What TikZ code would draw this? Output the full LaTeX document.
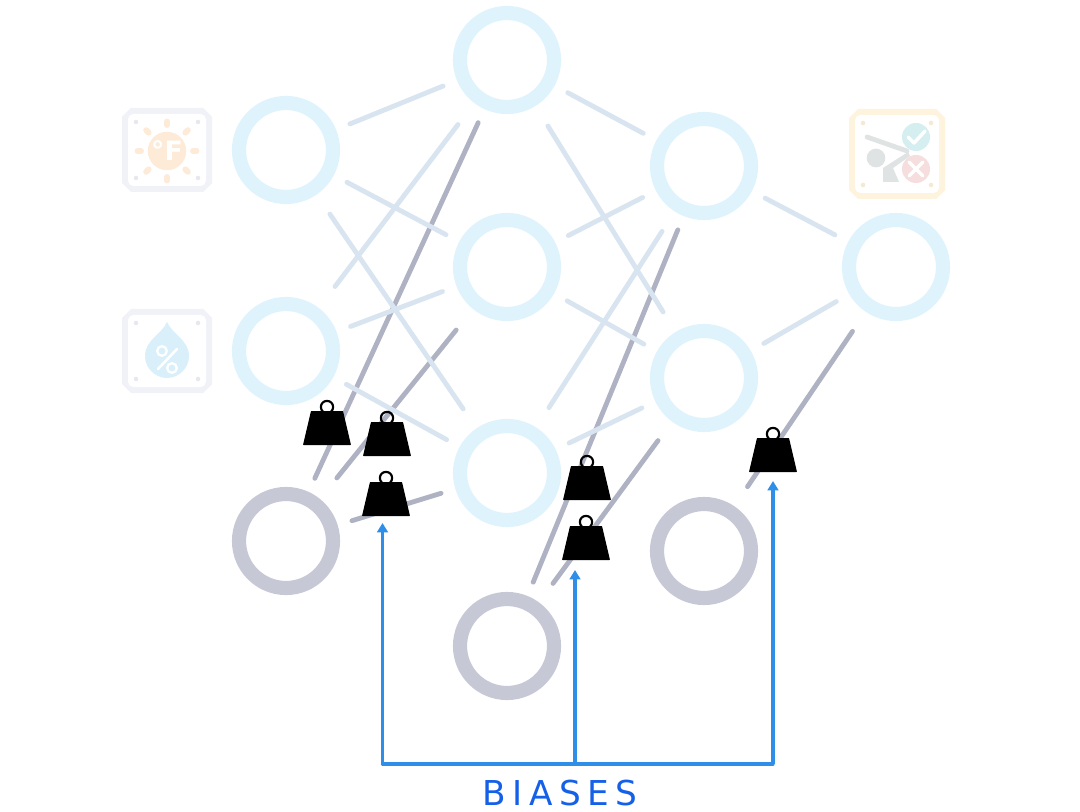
\documentclass[tikz,border=0pt]{standalone}
\usepackage{fontspec}
\newfontfamily\labelfont[LetterSpace=19]{DejaVu Sans}
\newfontfamily\iconfont{DejaVu Sans}
\usetikzlibrary{arrows.meta}
\definecolor{ringblue}{HTML}{DFF3FD}
\definecolor{ringgrey}{HTML}{C6C8D6}
\definecolor{fadeline}{HTML}{D8E5F0}
\definecolor{biasline}{HTML}{AEB2C2}
\definecolor{arrowblue}{HTML}{2F8FE8}
\definecolor{textblue}{HTML}{1560E8}
\definecolor{frameblue}{HTML}{F0F2F8}
\definecolor{frameamber}{HTML}{FEF3DC}
\definecolor{sunfill}{HTML}{FDEBD8}
\definecolor{dropfill}{HTML}{D9F0FB}
\definecolor{golfgrey}{HTML}{E0E3E3}
\definecolor{okfill}{HTML}{D5EEF0}
\definecolor{nofill}{HTML}{F6DEDE}
\tikzset{
  x=0.75pt,y=-0.75pt,
  neuron/.style={circle,draw=ringblue,line width=10.6pt,minimum size=70.5pt,inner sep=0pt,outer sep=0pt},
  biasnode/.style={neuron,draw=ringgrey},
  gapnear/.style={shorten <=16.5pt,shorten >=16.5pt},
  gapmid/.style={shorten <=23pt,shorten >=23pt},
  gapfar/.style={shorten <=25.5pt,shorten >=25.5pt},
  fadeedge/.style={draw=fadeline,line width=3.6pt,line cap=round,gapnear},
  biasedge/.style={draw=biasline,line width=3.6pt,line cap=round,gapnear},
  biasarrow/.style={draw=arrowblue,line width=2.4pt,-{Triangle[length=7pt,width=8pt]}},
  biasbar/.style={draw=arrowblue,line width=2.4pt,line cap=round},
  weight/.pic={
    \draw[black,line width=1.6pt] (0,-4) circle[radius=4.6pt];
    \fill[black,rounded corners=0.4pt] (-16,0) -- (16,0) -- (24,34) -- (-24,34) -- cycle;
  },
  iconframe/.pic={
    \fill[#1] (-\fw+9,-\fh) -- (\fw-9,-\fh) -- (\fw,-\fh+9) -- (\fw,\fh-9) -- (\fw-9,\fh) -- (-\fw+9,\fh) -- (-\fw,\fh-9) -- (-\fw,-\fh+9) -- cycle;
    \fill[white,rounded corners=4pt] (-\fw+6,-\fh+6) rectangle (\fw-6,\fh-6);
    \foreach \sx/\sy in {-1/-1,1/-1,-1/1,1/1}
      \fill[#1!96!black] (\sx*\fw-\sx*14,\sy*\fh-\sy*14) circle[radius=1.7pt];
  },
}
\begin{document}
\begin{tikzpicture}
\useasboundingbox (0,0) rectangle (1080,812);
\fill[white] (0,0) rectangle (1080,812);

% icons
\def\fw{45}\def\fh{42}
\pic at (167,150) {iconframe=frameblue};
\pic at (167,351) {iconframe=frameblue};
\def\fw{48}\def\fh{45}
\pic at (897,154) {iconframe=frameamber};

% sun
\fill[sunfill] (167,151) circle[radius=14.4pt];
\foreach \ang in {0,45,...,315}
  \draw[sunfill,line width=4.4pt,line cap=round] (167,151) ++(\ang:19.5pt) -- ++(\ang:2.6pt);
\node[text=white,font=\iconfont\bfseries\fontsize{20}{20}\selectfont,inner sep=0pt] (degf) at (167,151) {°F};

% drop
\fill[dropfill] (167,322) .. controls (172,334) and (189,340) .. (189,356)
  .. controls (189,368) and (179,378) .. (167,378)
  .. controls (155,378) and (145,368) .. (145,356)
  .. controls (145,340) and (162,334) .. cycle;
\draw[white,line width=1.7pt] (162,351) circle[radius=3.6pt] (172,368) circle[radius=3.6pt];
\draw[white,line width=1.9pt,line cap=round] (158,369) -- (177,349);

% golf and check marks
\fill[okfill] (916,137) circle[radius=10.5pt];
\fill[nofill] (916,169) circle[radius=10.5pt];
\draw[white,line width=2.6pt,line cap=round,line join=round] (908,137) -- (914,143) -- (925,131);
\draw[white,line width=2.6pt,line cap=round] (909,162) -- (923,176) (923,162) -- (909,176);
\fill[golfgrey] (876,158) circle[radius=7pt];
\draw[golfgrey,line width=3.6pt,line cap=round] (867,137) -- (907,151);
\fill[golfgrey] (908,152) -- (883,168) -- (883,182) -- (899,182) -- (893,168) -- (910,156) -- cycle;

% neurons
\node[neuron] (i1) at (286,150) {};
\node[neuron] (i2) at (286,351) {};
\node[biasnode] (b1) at (286,541) {};
\node[neuron] (h1) at (507,60) {};
\node[neuron] (h2) at (507,267) {};
\node[neuron] (h3) at (507,473) {};
\node[biasnode] (b2) at (507,646) {};
\node[neuron] (r1) at (704,166) {};
\node[neuron] (r2) at (704,378) {};
\node[biasnode] (b3) at (704,551) {};
\node[neuron] (o1) at (896,267) {};

% bias connectors
\draw[biasedge] (b1) -- (h1);
\draw[biasedge,gapfar] (b1) -- (h2);
\draw[biasedge] (b1) -- (h3);
\draw[biasedge] (b2) -- (r1);
\draw[biasedge,gapmid] (b2) -- (r2);
\draw[biasedge,gapmid] (b3) -- (o1);

% faded connectors
\draw[fadeedge] (i1) -- (h1);
\draw[fadeedge] (i1) -- (h2);
\draw[fadeedge,gapmid] (i1) -- (h3);
\draw[fadeedge,gapfar] (i2) -- (h1);
\draw[fadeedge] (i2) -- (h2);
\draw[fadeedge] (i2) -- (h3);
\draw[fadeedge] (h1) -- (r1);
\draw[fadeedge,gapmid] (h1) -- (r2);
\draw[fadeedge] (h2) -- (r1);
\draw[fadeedge] (h2) -- (r2);
\draw[fadeedge,gapmid] (h3) -- (r1);
\draw[fadeedge] (h3) -- (r2);
\draw[fadeedge] (r1) -- (o1);
\draw[fadeedge] (r2) -- (o1);

% weights
\pic at (327,411) {weight};
\pic at (387,422) {weight};
\pic at (386,482) {weight};
\pic at (587,466) {weight};
\pic at (586,526) {weight};
\pic at (773,438) {weight};

% bias arrows
\coordinate (barleft) at (382.5,764);
\coordinate (barmid) at (575,764);
\coordinate (barright) at (773,764);
\coordinate (tipleft) at (382.5,523);
\coordinate (tipmid) at (575,570);
\coordinate (tipright) at (773,481);
\draw[biasbar] (barleft) -- (barright);
\draw[biasarrow] (barleft) -- (tipleft);
\draw[biasarrow] (barmid) -- (tipmid);
\draw[biasarrow] (barright) -- (tipright);

\node[text=textblue,font=\labelfont\fontsize{25.7}{26}\selectfont,inner sep=0pt] (biaslabel) at (560,793) {BIASES};
\end{tikzpicture}
\end{document}
